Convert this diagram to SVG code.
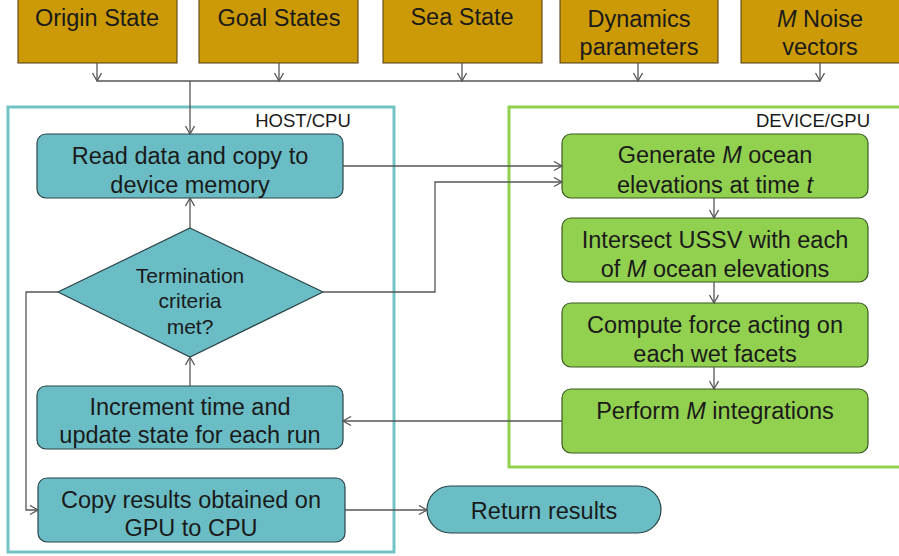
<svg xmlns="http://www.w3.org/2000/svg" width="899" height="556" viewBox="0 0 899 556">
<style>
text{font-family:"Liberation Sans",Arial,sans-serif;fill:#1a1a1a;text-anchor:middle;font-size:23.5px}
.in{fill:#CC9A06;stroke:#4a3a10;stroke-width:1}
.tl{fill:#6BBDC5;stroke:#2a4448;stroke-width:1.2}
.gr{fill:#92D050;stroke:#3a5a20;stroke-width:1.2}
.c{fill:none;stroke:#555;stroke-width:1.3}
.lbl{font-size:18.5px}
.dia{font-size:21px}
</style>
<defs>
<marker id="a" markerUnits="userSpaceOnUse" markerWidth="12" markerHeight="12" refX="9" refY="5" orient="auto">
<path d="M1,0.5 L9,5 L1,9.5" fill="none" stroke="#555" stroke-width="1.3"/>
</marker>
</defs>
<rect x="8" y="107" width="386" height="445" fill="none" stroke="#72C4C4" stroke-width="3"/>
<rect x="509" y="107" width="400" height="360" fill="none" stroke="#92D050" stroke-width="3"/>
<text class="lbl" x="303" y="127">HOST/CPU</text>
<text class="lbl" x="870" y="127" style="text-anchor:end">DEVICE/GPU</text>
<g id="origin"><rect class="in" x="18" y="-5" width="159" height="68"/><text x="97" y="26">Origin State</text></g>
<g id="goal"><rect class="in" x="199" y="-5" width="159" height="68"/><text x="279" y="26">Goal States</text></g>
<g id="sea"><rect class="in" x="383" y="-5" width="159" height="68"/><text x="462" y="25">Sea State</text></g>
<g id="dyn"><rect class="in" x="560" y="-5" width="158" height="68"/><text x="639" y="27">Dynamics</text><text x="639" y="55">parameters</text></g>
<g id="noise"><rect class="in" x="741" y="-5" width="165" height="68"/><text x="820" y="27"><tspan font-style="italic">M</tspan> Noise</text><text x="820" y="55">vectors</text></g>
<g id="read"><rect class="tl" x="37" y="134" width="306" height="64" rx="9"/><text x="190" y="164">Read data and copy to</text><text x="190" y="193">device memory</text></g>
<g id="term"><polygon class="tl" points="190,228 323,292 190,357 58,292"/><text class="dia" x="190" y="283">Termination</text><text class="dia" x="190" y="308">criteria</text><text class="dia" x="190" y="334">met?</text></g>
<g id="incr"><rect class="tl" x="37" y="386" width="306" height="63" rx="9"/><text x="190" y="415">Increment time and</text><text x="190" y="443">update state for each run</text></g>
<g id="copy"><rect class="tl" x="38" y="478" width="307" height="64" rx="9"/><text x="191" y="508">Copy results obtained on</text><text x="191" y="536">GPU to CPU</text></g>
<g id="ret"><rect class="tl" x="427" y="486" width="234" height="47" rx="23.5"/><text x="544" y="519">Return results</text></g>
<g id="gen"><rect class="gr" x="562" y="134" width="306" height="64" rx="9"/><text x="715" y="163">Generate <tspan font-style="italic">M</tspan> ocean</text><text x="715" y="193">elevations at time <tspan font-style="italic">t</tspan></text></g>
<g id="inter"><rect class="gr" x="562" y="218" width="306" height="64" rx="9"/><text x="715" y="248">Intersect USSV with each</text><text x="715" y="277">of <tspan font-style="italic">M</tspan> ocean elevations</text></g>
<g id="comp"><rect class="gr" x="562" y="303" width="306" height="64" rx="9"/><text x="715" y="333">Compute force acting on</text><text x="715" y="362">each wet facets</text></g>
<g id="perf"><rect class="gr" x="562" y="389" width="306" height="64" rx="9"/><text x="715" y="419">Perform <tspan font-style="italic">M</tspan> integrations</text></g>
<g id="connectors">
<line class="c" x1="97" y1="81" x2="820" y2="81"/>
<line class="c" x1="97" y1="63" x2="97" y2="81" marker-end="url(#a)"/>
<line class="c" x1="279" y1="63" x2="279" y2="81" marker-end="url(#a)"/>
<line class="c" x1="462" y1="63" x2="462" y2="81" marker-end="url(#a)"/>
<line class="c" x1="638" y1="63" x2="638" y2="81" marker-end="url(#a)"/>
<line class="c" x1="820" y1="63" x2="820" y2="81" marker-end="url(#a)"/>
<line class="c" x1="190" y1="81" x2="190" y2="134" marker-end="url(#a)"/>
<line class="c" x1="190" y1="228" x2="190" y2="198" marker-end="url(#a)"/>
<line class="c" x1="190" y1="386" x2="190" y2="357" marker-end="url(#a)"/>
<polyline class="c" points="58,292 26,292 26,510 38,510" marker-end="url(#a)"/>
<line class="c" x1="343" y1="166" x2="562" y2="166" marker-end="url(#a)"/>
<polyline class="c" points="323,292 435,292 435,182 562,182" marker-end="url(#a)"/>
<line class="c" x1="714" y1="198" x2="714" y2="218" marker-end="url(#a)"/>
<line class="c" x1="714" y1="282" x2="714" y2="303" marker-end="url(#a)"/>
<line class="c" x1="714" y1="367" x2="714" y2="389" marker-end="url(#a)"/>
<line class="c" x1="562" y1="421" x2="343" y2="421" marker-end="url(#a)"/>
<line class="c" x1="345" y1="510" x2="427" y2="510" marker-end="url(#a)"/>
</g>
</svg>
